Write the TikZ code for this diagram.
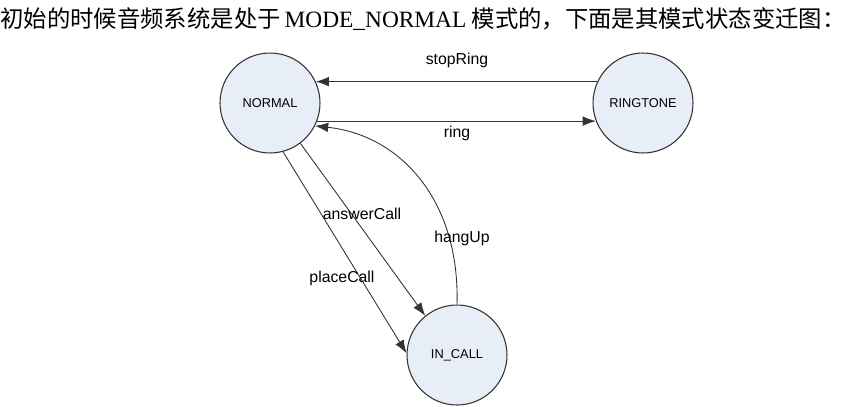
\documentclass[tikz,border=0pt]{standalone}
\usepackage{fontspec}
\setmainfont{Liberation Serif}
\setsansfont{Liberation Sans}
\newfontfamily\cjk{Noto Sans CJK SC}
\definecolor{stfill}{HTML}{E8EEF8}
\definecolor{stline}{HTML}{333333}
\usetikzlibrary{arrows.meta}
\begin{document}
\begin{tikzpicture}[x=0.02cm,y=-0.02cm,
  st/.style={circle,draw=stline,fill=stfill,line width=0.6pt,minimum size=2cm,inner sep=0pt,
    font=\sffamily\fontsize{7.3}{8}\selectfont},
  tr/.style={draw=stline,line width=0.5pt,-{Latex[length=7.5pt,width=5.5pt]}},
  lab/.style={font=\sffamily\fontsize{9}{10}\selectfont,inner sep=1pt}]
\useasboundingbox (0,0) rectangle (865,406);
\node[anchor=west,inner sep=0pt] (T) at (0,19) {\fontsize{13.3}{15}\selectfont\cjk 初始的时候音频系统是处于\,{\rmfamily MODE\_NORMAL} 模式的，下面是其模式状态变迁图：};
% states
\node[st] (N) at (270,103) {NORMAL};
\node[st] (R) at (643,103) {RINGTONE};
\node[st] (C) at (457,355) {IN\_CALL};
% transitions
\draw[tr] (R.155) -- (N.25);
\draw[tr] (N.-21) -- (R.201);
\draw[tr] (N.-53) -- (C.129);
\draw[tr] (N.-75) -- (C.178);
\draw[tr] (C.90) .. controls (460,200) and (400,135) .. (N.-27);
\node[lab] (a) at (457,60) {stopRing};
\node[lab] (b) at (457,133) {ring};
\node[lab] (c) at (362,214) {answerCall};
\node[lab] (d) at (342,278) {placeCall};
\node[lab] (e) at (462,238) {hangUp};
\end{tikzpicture}
\end{document}
